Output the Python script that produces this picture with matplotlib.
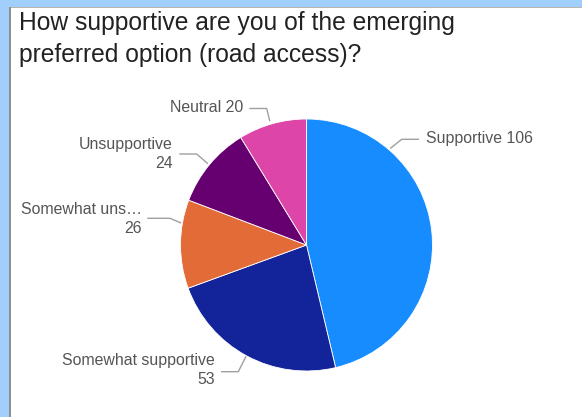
import matplotlib
matplotlib.use("Agg")
import matplotlib.pyplot as plt
import numpy as np
from matplotlib.patches import Rectangle
from matplotlib.lines import Line2D

# ---- data ----
categories = ["Supportive", "Somewhat supportive", "Somewhat uns…", "Unsupportive", "Neutral"]
values = [106, 53, 26, 24, 20]
colors = ["#168cff", "#13239a", "#e36b37", "#660070", "#dd46a8"]
title = "How supportive are you of the emerging\npreferred option (road access)?"

W, H = 582, 417
DPI = 100
plt.rcParams['font.family'] = ['Liberation Sans', 'DejaVu Sans']

fig = plt.figure(figsize=(W / DPI, H / DPI), dpi=DPI)
fig.patch.set_facecolor("white")

def fx(x):
    return x / W

def fy(y):
    return 1 - y / H

# frame: light blue bands with gray edges
fig.patches.append(Rectangle((0, fy(7)), 1, 7 / H, transform=fig.transFigure,
                             facecolor="#a0cffc", edgecolor="none", zorder=0))
fig.patches.append(Rectangle((0, 0), fx(9), 1, transform=fig.transFigure,
                             facecolor="#a0cffc", edgecolor="none", zorder=0))
fig.patches.append(Rectangle((fx(9), fy(8)), 1, 1 / H, transform=fig.transFigure,
                             facecolor="#b9b4ae", edgecolor="none", zorder=1))
fig.patches.append(Rectangle((fx(9), 0), 2 / W, fy(7), transform=fig.transFigure,
                             facecolor="#8f8f8f", edgecolor="none", zorder=1))

# title
fig.text(fx(19), fy(39), title, fontsize=17.7, color="#222222",
         ha="left", va="center", linespacing=1.45)

# pie
cx, cy, r = 306.5, 245, 126
ax = fig.add_axes([fx(cx - r), fy(cy + r), 2 * r / W, 2 * r / H])
ax.pie(values, colors=colors, startangle=90, counterclock=False,
       wedgeprops=dict(edgecolor="white", linewidth=0.6))
ax.set_xlim(-1, 1)
ax.set_ylim(-1, 1)
ax.set_aspect("auto")
ax.axis("off")

label_texts = ["Supportive 106", "Somewhat supportive\n53", "Somewhat uns…\n26",
               "Unsupportive\n24", "Neutral 20"]
layout = [
    # anchor_angle, anchor_rf, elbow(x,y), end(x,y), text(x,y), ha
    (49.0, 1.02, (401.7, 139.3), (418.3, 139.3), (425.5, 138.5), "left"),
    (241.5, 1.01, (238.3, 371.7), (221.7, 371.7), (214.5, 370), "right"),
    (170.0, 1.015, (170.0, 218.3), (148.0, 218.3), (141.7, 219), "right"),
    (140.5, 1.02, (196.7, 154.0), (180.0, 154.0), (172.7, 154), "right"),
    (106.5, 1.03, (266.7, 108.5), (250.0, 108.5), (243.5, 107.5), "right"),
]

lc = "#a0a0a0"
for txt, (ang, rf, elb, end, tpos, ha) in zip(label_texts, layout):
    a = np.deg2rad(ang)
    px = cx + r * rf * np.cos(a)
    py = cy - r * rf * np.sin(a)
    xs = [fx(px), fx(elb[0]), fx(end[0])]
    ys = [fy(py), fy(elb[1]), fy(end[1])]
    fig.lines.append(Line2D(xs, ys, transform=fig.transFigure, color=lc, lw=1.0))
    fig.text(fx(tpos[0]), fy(tpos[1]), txt, fontsize=11.4, color="#555555",
             ha=ha, va="center", multialignment=ha, linespacing=1.3)

fig.savefig("out.png", dpi=DPI)
